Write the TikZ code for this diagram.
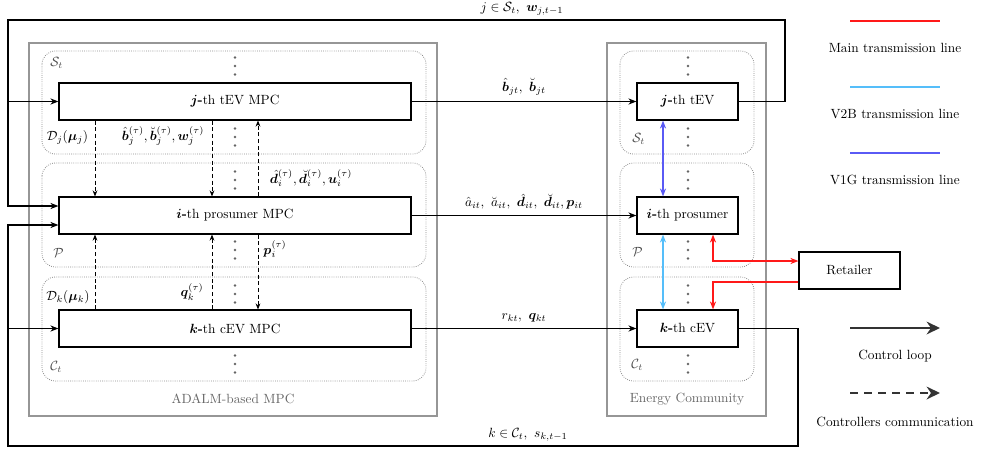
\documentclass[tikz,border=0pt]{standalone}
\usepackage{amsmath,amssymb,bm}
\usetikzlibrary{arrows.meta,calc}

\definecolor{mainred}{RGB}{255,25,25}
\definecolor{vtwob}{RGB}{85,190,250}
\definecolor{vone}{RGB}{90,90,245}
\definecolor{frame}{RGB}{150,150,150}
\definecolor{dotc}{RGB}{100,100,100}

\begin{document}
\begin{tikzpicture}[x=0.75pt,y=-0.75pt,
  mpcbox/.style={draw, line width=0.9pt, minimum width=264pt, minimum height=27.75pt, inner sep=0pt},
  agentbox/.style={draw, line width=0.9pt, minimum width=75.75pt, minimum height=27.75pt, inner sep=0pt},
  outerframe/.style={draw=frame, line width=2pt},
  grpframe/.style={draw=black!45, densely dotted, line width=0.6pt, rounded corners=10pt},
  grplabel/.style={text=black!70, anchor=west, inner sep=0pt},
  framelabel/.style={text=black!60},
  ctrl/.style={draw, line width=0.8pt, -{Stealth[length=6pt,width=4.6pt]}},
  comm/.style={draw, line width=0.6pt, dash pattern=on 3pt off 2pt, -{Stealth[length=4.5pt,width=3.6pt]}},
  redline/.style={draw=mainred, line width=0.8pt},
  dots/.style={fill=dotc},
  legline/.style={line width=2.2pt},
  legarrow/.style={draw=black!80, line width=2.2pt, -{Stealth[length=10pt,width=9.5pt]}},
]
\useasboundingbox (0,0) rectangle (981,450);

% ---------- frames ----------
\draw[outerframe] (29,43) rectangle (437,416);
\draw[outerframe] (607,43) rectangle (766,416);
\node[framelabel] (adalm) at (233,399) {ADALM-based MPC};
\node[framelabel] (community) at (687,399) {Energy Community};

% ---------- group frames ----------
\foreach \ya/\yb in {51/154, 163/267, 277/381}{
  \draw[grpframe] (42,\ya) rectangle (426,\yb);
  \draw[grpframe] (620,\ya) rectangle (754,\yb);
}

% ---------- vertical ellipsis dots ----------
\foreach \xc in {235,688}{
  \foreach \yc in {66,137,180,250,294,364}{
    \foreach \d in {-8.5,0,8.5}{
      \fill[dots] (\xc,\yc+\d) circle[radius=1.1pt];
    }
  }
}

% ---------- group labels ----------
\node[grplabel] (lst) at (50,63) {$\mathcal{S}_t$};
\node[grplabel] (lp) at (53,253) {$\mathcal{P}$};
\node[grplabel] (lct) at (50,367) {$\mathcal{C}_t$};
\node[grplabel] (rst) at (632,139) {$\mathcal{S}_t$};
\node[grplabel] (rp) at (632,252) {$\mathcal{P}$};
\node[grplabel] (rct) at (631,365) {$\mathcal{C}_t$};

% ---------- controllers ----------
\node[mpcbox] (tevmpc) at (235,101.5) {$\boldsymbol{j}$\textbf{-}th tEV MPC};
\node[mpcbox] (prosmpc) at (235,215.5) {$\boldsymbol{i}$\textbf{-}th prosumer MPC};
\node[mpcbox] (cevmpc) at (235,328.5) {$\boldsymbol{k}$\textbf{-}th cEV MPC};

% ---------- community agents ----------
\node[agentbox] (tev) at (687.5,101.5) {$\boldsymbol{j}$\textbf{-}th tEV};
\node[agentbox] (pros) at (687.5,215.5) {$\boldsymbol{i}$\textbf{-}th prosumer};
\node[agentbox] (cev) at (687.5,328.5) {$\boldsymbol{k}$\textbf{-}th cEV};
\node[agentbox] (retailer) at (849.5,270.5) {Retailer};

% ---------- loop corners ----------
\coordinate (tl) at (8,20);
\coordinate (tr) at (785,20);
\coordinate (bl) at (8,446);
\coordinate (br) at (798,446);

% ---------- feedback loops ----------
\draw[ctrl] (tev.east) -| (tr) -- (tl) |- ($(prosmpc.west)+(0,-9.5)$);
\draw[ctrl] (tl |- tevmpc.west) -- (tevmpc.west);
\draw[ctrl] (cev.east) -| (br) -- (bl) |- ($(prosmpc.west)+(0,9.5)$);
\draw[ctrl] (bl |- cevmpc.west) -- (cevmpc.west);
\node (toplab) at (522,9) {$j \in \mathcal{S}_t,\ \boldsymbol{w}_{j,t-1}$};
\node (botlab) at (528,435) {$k \in \mathcal{C}_t,\ s_{k,t-1}$};

% ---------- control actions ----------
\draw[ctrl] (tevmpc.east) -- node[above, yshift=1pt] (lab1) {$\hat{\boldsymbol{b}}_{jt},\ \breve{\boldsymbol{b}}_{jt}$} (tev.west);
\draw[ctrl] (prosmpc.east) -- node[above, yshift=1pt] (lab2) {$\hat{a}_{it},\ \breve{a}_{it},\ \hat{\boldsymbol{d}}_{it},\ \breve{\boldsymbol{d}}_{it},\boldsymbol{p}_{it}$} (pros.west);
\draw[ctrl] (cevmpc.east) -- node[above, yshift=1pt] (lab3) {$r_{kt},\ \boldsymbol{q}_{kt}$} (cev.west);

% ---------- controller communication ----------
\coordinate (xa) at (95,0);
\coordinate (xb) at (212,0);
\coordinate (xc) at (258,0);
\draw[comm] (tevmpc.south -| xa) -- (prosmpc.north -| xa);
\draw[comm] (tevmpc.south -| xb) -- (prosmpc.north -| xb);
\draw[comm] (prosmpc.north -| xc) -- (tevmpc.south -| xc);
\draw[comm] (cevmpc.north -| xa) -- (prosmpc.south -| xa);
\draw[comm] (cevmpc.north -| xb) -- (prosmpc.south -| xb);
\draw[comm] (prosmpc.south -| xc) -- (cevmpc.north -| xc);

\node (ldj) at (67.5,137) {$\mathcal{D}_j(\boldsymbol{\mu}_j)$};
\node (ldk) at (68,297) {$\mathcal{D}_k(\boldsymbol{\mu}_k)$};
\node (lbj) at (163,136) {$\hat{\boldsymbol{b}}_j^{(\tau)},\breve{\boldsymbol{b}}_j^{(\tau)},\boldsymbol{w}_j^{(\tau)}$};
\node (ldi) at (311,178) {$\hat{\boldsymbol{d}}_i^{(\tau)},\breve{\boldsymbol{d}}_i^{(\tau)},\boldsymbol{u}_i^{(\tau)}$};
\node (lpi) at (275,249) {$\boldsymbol{p}_i^{(\tau)}$};
\node (lqk) at (192,292) {$\boldsymbol{q}_k^{(\tau)}$};

% ---------- energy exchanges ----------
\coordinate (xv) at (663,0);
\coordinate (xr) at (713,0);
\draw[vone, line width=0.8pt, {Stealth[length=6pt,width=4.6pt]}-{Stealth[length=6pt,width=4.6pt]}] (tev.south -| xv) -- (pros.north -| xv);
\draw[vtwob, line width=0.8pt, {Stealth[length=6pt,width=4.6pt]}-{Stealth[length=6pt,width=4.6pt]}] (pros.south -| xv) -- (cev.north -| xv);
\draw[redline, {Stealth[length=6pt,width=4.6pt]}-{Stealth[length=6pt,width=4.6pt]}] (pros.south -| xr) |- ($(retailer.west)+(0,-9.5)$);
\draw[redline, -{Stealth[length=6pt,width=4.6pt]}] ($(retailer.west)+(0,11.5)$) -| (cev.north -| xr);

% ---------- legend ----------
\coordinate (la1) at (850,21);  \coordinate (la2) at (940,21);
\coordinate (lb1) at (850,87);  \coordinate (lb2) at (940,87);
\coordinate (lc1) at (850,153); \coordinate (lc2) at (940,153);
\coordinate (ld1) at (850,328); \coordinate (ld2) at (940,328);
\coordinate (le1) at (850,393); \coordinate (le2) at (940,393);
\draw[legline, draw=mainred] (la1) -- (la2);
\draw[legline, draw=vtwob] (lb1) -- (lb2);
\draw[legline, draw=vone] (lc1) -- (lc2);
\draw[legarrow] (ld1) -- (ld2);
\draw[legarrow, dash pattern=on 6pt off 4.5pt] (le1) -- (le2);
\node (tmain) at (895,48) {Main transmission line};
\node (tv2b) at (895,114) {V2B transmission line};
\node (tv1g) at (895,180) {V1G transmission line};
\node (tctrl) at (895,356) {Control loop};
\node (tcomm) at (895,422) {Controllers communication};
\end{tikzpicture}
\end{document}
